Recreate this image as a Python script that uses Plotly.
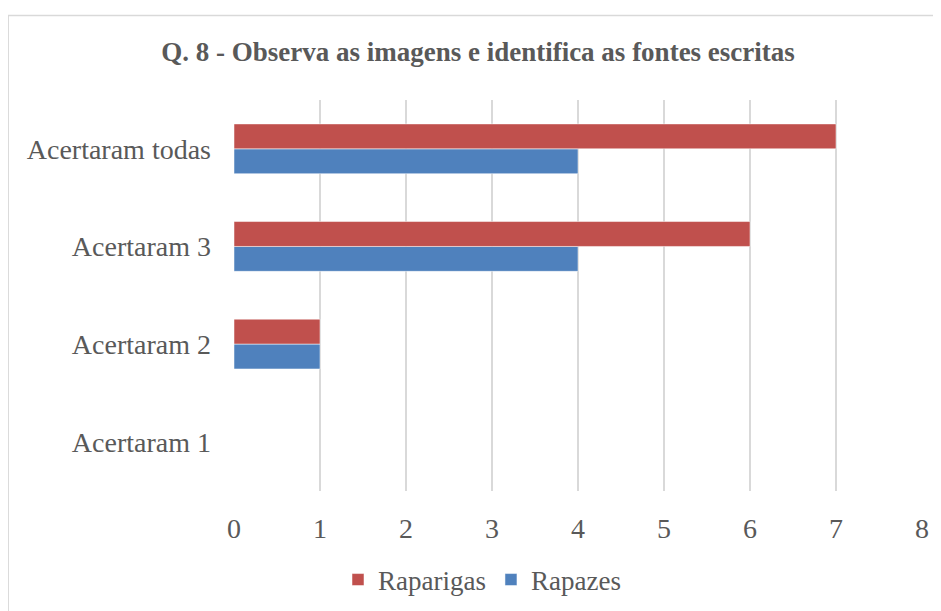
import plotly.graph_objects as go

categories = ["Acertaram 1", "Acertaram 2", "Acertaram 3", "Acertaram todas"]
raparigas = [0, 1, 6, 7]
rapazes = [0, 1, 4, 4]
x_ticks = [0, 1, 2, 3, 4, 5, 6, 7, 8]

TEXT = "#595959"
FONT = "Liberation Serif, Times New Roman, serif"

# the page body has an 8px margin, so the figure is drawn 8px smaller and shifted
W, H = 933, 603

fig = go.Figure()

# plotly puts the first trace at the bottom of each group, so blue goes first
fig.add_trace(go.Bar(
    y=categories, x=rapazes, orientation="h", name="Rapazes",
    marker=dict(color="#4F81BD", line=dict(color="white", width=0.5)),
))
fig.add_trace(go.Bar(
    y=categories, x=raparigas, orientation="h", name="Raparigas",
    marker=dict(color="#C0504D", line=dict(color="white", width=0.5)),
))

fig.update_layout(
    width=W, height=H,
    margin=dict(l=226, r=15, t=92, b=113),
    paper_bgcolor="white", plot_bgcolor="white",
    font=dict(family=FONT, color=TEXT),
    barmode="group", bargap=0.49, bargroupgap=0,
    title=dict(
        text="<b>Q. 8 - Observa as imagens e identifica as fontes escritas</b>",
        font=dict(size=27, color=TEXT, family=FONT),
        x=(478 - 8) / W, xref="container", xanchor="center",
        y=1 - (52 - 8) / H, yref="container", yanchor="middle",
    ),
    legend=dict(
        orientation="h", traceorder="reversed",
        x=(482 - 8) / W, xref="container", xanchor="center",
        y=1 - (580 - 8) / H, yref="container", yanchor="middle",
        font=dict(size=27, color=TEXT, family=FONT),
        itemwidth=30,
    ),
    xaxis=dict(
        range=[0, 8], tickvals=x_ticks,
        showgrid=True, gridcolor="#D9D9D9", gridwidth=1.5,
        zeroline=False, showline=False, ticks="",
        tickfont=dict(size=28, color=TEXT), ticklabelstandoff=18,
    ),
    yaxis=dict(
        categoryorder="array", categoryarray=categories,
        showgrid=False, zeroline=False, showline=False, ticks="",
        tickfont=dict(size=28, color=TEXT), ticklabelstandoff=22,
    ),
    shapes=[dict(
        type="rect", xref="paper", yref="paper",
        x0=(1.5 - 226) / 684, x1=1.2, y0=-0.5, y1=1 + (92 - 7.5) / 390,
        line=dict(color="#D9D9D9", width=1.5), fillcolor="rgba(0,0,0,0)",
        layer="below",
    )],
)

fig.write_html("out.html")
